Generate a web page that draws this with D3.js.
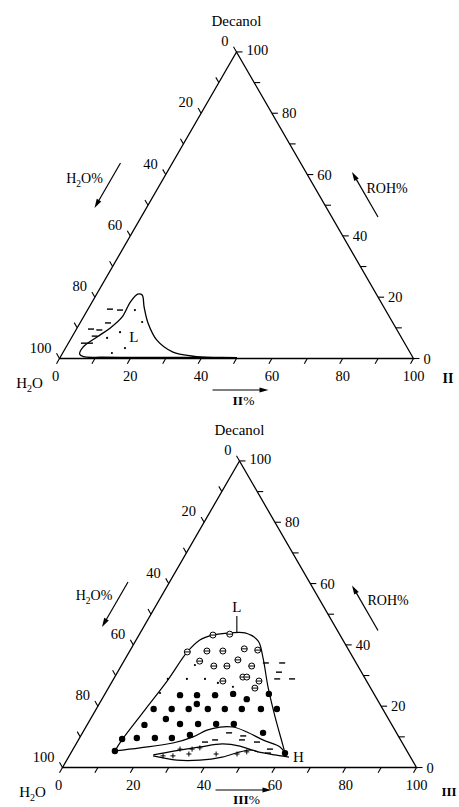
<!DOCTYPE html>
<html>
<head>
<meta charset="utf-8">
<script src="https://cdn.jsdelivr.net/npm/d3@7"></script>
<style>
body { margin: 0; background: #fff; }
svg text { font-family: "Liberation Serif", "Times New Roman", serif; fill: #000; }
</style>
</head>
<body>
<svg id="chart" width="459" height="807"></svg>
<script>
var tickValues = d3.range(0, 101, 10);
var labelValues = [0, 20, 40, 60, 80, 100];

// top diagram, points are [II %, ROH %]
var topRegionL = [[50, 0.3], [43.8, 0.35], [30, 0.35], [12, 0.4], [6.5, 0.6], [5.0, 1.4], [4.8, 3.7],
	[7.1, 7.0], [9.3, 9.9], [10.9, 13.5], [10.8, 18.4], [11.6, 21.0], [13.0, 20.7], [15.5, 16.8],
	[19.2, 11.6], [24.5, 6.0], [31, 2.1], [37.3, 0.8], [43.8, 0.35], [50, 0.3]];
var topDashes = [[6.2, 16.1], [9.2, 15.8], [7.9, 11.6], [4.1, 9.6], [6.6, 9.3], [6.3, 7.3], [4.4, 5.0], [6.1, 5.0]];
var topDots = [[13.4, 15.8], [17.4, 11.9], [12.8, 8.6], [10.1, 6.7], [16.8, 3.4], [13.9, 1.8]];
var topLabelL = [17.5, 7.0];

// bottom diagram, points are [III %, ROH %]
var botOuter = [[12.1, 5.4], [12.3, 9.0], [13.9, 18.8], [15.5, 28.5], [16.4, 37.7], [18.0, 41.6], [20.9, 43.2],
	[25.4, 43.9], [29.6, 43.9], [34.6, 41.3], [38.6, 36.0], [44.9, 26.3], [51.8, 16.5], [58.6, 7.3], [60.5, 4.7]];
var botInner = [[12.1, 5.4], [18.7, 6.4], [27.2, 8.0], [31.9, 10.0], [34.7, 12.2], [37.9, 13.2], [41.6, 13.2],
	[46.3, 11.6], [52.1, 9.0], [58.1, 6.7], [60.5, 4.7]];
var lensTop = [[23.6, 4.1], [29.1, 5.4], [35.5, 6.7], [41.3, 7.7], [46.6, 7.0], [50.6, 5.7], [52.7, 5.1]];
var lensBottom = [[23.7, 3.8], [31.1, 2.4], [37.6, 2.4], [43.4, 3.4], [47.6, 5.1], [50.6, 5.7], [52.7, 5.1],
	[58, 4.1], [62.3, 3.4]];
var botFilled = [[12.1, 5.4], [12.2, 9.3], [60.5, 4.7],
	[21.4, 23.6], [26.2, 23.6], [31.3, 23.6], [36.2, 24.0], [40.9, 22.3], [46.3, 24.0],
	[16.2, 19.1], [21.3, 19.1], [26.1, 19.1], [31.5, 19.1], [36.3, 19.1], [41.1, 19.1], [46.5, 19.1], [51.0, 19.1],
	[27.6, 20.7], [16.2, 13.9], [21.3, 15.8], [26.1, 14.2], [31.2, 14.2], [36.3, 14.2], [41.3, 14.2], [51.0, 11.3],
	[16.2, 9.6], [21.3, 9.6], [26.1, 9.6], [30.7, 10.6]];
var botTheta = [[16.4, 37.7], [20.9, 43.2], [25.5, 43.5], [36.0, 38.3], [21.8, 38.0], [26.3, 38.0], [32.0, 38.7],
	[21.4, 34.7], [26.2, 33.1], [29.9, 33.1], [32.0, 35.1], [36.9, 33.1], [31.2, 28.2], [36.2, 29.5],
	[37.3, 29.5], [41.4, 28.2], [41.4, 25.9]];
var botSmall = [[20.7, 33.4], [20.7, 28.9], [25.8, 28.9], [15.3, 28.9], [15.4, 24.3], [30.1, 27.6], [35.0, 26.3]];
var botDashes = [[40.4, 34.1], [45.0, 34.1], [45.6, 31.1], [46.2, 28.9], [50.4, 28.9],
	[41.4, 11.3], [45.9, 10.3], [46.2, 9.0], [36.1, 8.3], [38.6, 9.0], [50.8, 8.3], [55.6, 6.0], [55.7, 4.7]];
var botPlus = [[26.5, 3.8], [29.3, 3.8], [30.2, 6.0], [33.5, 4.4], [33.6, 6.0], [35.6, 6.4], [41.2, 4.4],
	[47.1, 4.4], [49.5, 5.1]];
var botLabelL = [27.3, 43.9];
var botLabelH = [62.3, 3.4];

var svg = d3.select('#chart');

function arrow(g, x1, y1, x2, y2){
	var dx = x2 - x1, dy = y2 - y1, len = Math.sqrt(dx*dx + dy*dy);
	var ux = dx/len, uy = dy/len, hl = 9, hw = 2.6;
	g.append('line')
		.attr('x1', x1).attr('y1', y1)
		.attr('x2', x2 - ux*hl*0.8).attr('y2', y2 - uy*hl*0.8)
		.attr('stroke', '#000').attr('stroke-width', 1.2);
	var bx = x2 - ux*hl, by = y2 - uy*hl;
	g.append('path')
		.attr('d', 'M' + x2 + ',' + y2 + 'L' + (bx - uy*hw) + ',' + (by + ux*hw)
			+ 'L' + (bx + uy*hw) + ',' + (by - ux*hw) + 'Z')
		.attr('fill', '#000');
}

function drawTernary(opts){
	var g = svg.append('g');
	var h = opts.side*Math.sqrt(3)/2;
	var x = d3.scaleLinear().domain([0, 100]).range([opts.left, opts.left + opts.side]);
	var y = d3.scaleLinear().domain([0, 100]).range([opts.base, opts.base - h]);
	// [bottom-axis %, ROH %] -> pixel
	var px = d => [x(d[0] + d[1]/2), y(d[1])];
	var bl = px([0, 0]), br = px([100, 0]), ap = px([0, 100]);

	g.append('path')
		.attr('d', 'M' + bl + 'L' + br + 'L' + ap + 'Z')
		.attr('fill', 'none').attr('stroke', '#000').attr('stroke-width', 1.3);

	var tl = 6;
	var s3 = Math.sqrt(3)/2;
	tickValues.forEach(function(v){
		var p = px([0, 100 - v]);
		g.append('line').attr('x1', p[0]).attr('y1', p[1])
			.attr('x2', p[0] - 0.5*tl).attr('y2', p[1] - s3*tl)
			.attr('stroke', '#000').attr('stroke-width', 1.1);
		p = px([100 - v, v]);
		g.append('line').attr('x1', p[0]).attr('y1', p[1])
			.attr('x2', p[0] + tl).attr('y2', p[1])
			.attr('stroke', '#000').attr('stroke-width', 1.1);
		p = px([v, 0]);
		g.append('line').attr('x1', p[0]).attr('y1', p[1])
			.attr('x2', p[0] - 0.5*tl).attr('y2', p[1] + s3*tl)
			.attr('stroke', '#000').attr('stroke-width', 1.1);
	});

	var fs = '14.5px';
	labelValues.forEach(function(v){
		var p = px([0, 100 - v]);
		g.append('text').attr('x', p[0] - 8).attr('y', p[1] - 11).attr('dy', '0.35em')
			.attr('text-anchor', 'end').style('font-size', fs).text(v);
		p = px([100 - v, v]);
		g.append('text').attr('x', p[0] + 10).attr('y', p[1] - (v == 100 ? 2 : 0)).attr('dy', '0.35em')
			.attr('text-anchor', 'start').style('font-size', fs).text(v);
		p = px([v, 0]);
		g.append('text').attr('x', p[0] - (v == 0 ? 4 : 0)).attr('y', p[1] + 17).attr('dy', '0.35em')
			.attr('text-anchor', 'middle').style('font-size', fs).text(v);
	});

	// vertex names
	g.append('text').attr('x', ap[0]).attr('y', ap[1] - 31).attr('dy', '0.35em')
		.attr('text-anchor', 'middle').style('font-size', '15px').text('Decanol');
	var h2o = g.append('text').attr('x', bl[0] - 30).attr('y', bl[1] + 24).attr('dy', '0.35em')
		.attr('text-anchor', 'middle').style('font-size', '15px');
	h2o.append('tspan').text('H');
	h2o.append('tspan').attr('dy', 4).style('font-size', '10px').text('2');
	h2o.append('tspan').attr('dy', -4).text('O');
	g.append('text').attr('x', br[0] + opts.nameDx).attr('y', br[1] + opts.nameDy).attr('dy', '0.35em')
		.attr('text-anchor', 'start').style('font-size', opts.nameSize).style('font-weight', 'bold').text(opts.name);

	// axis captions with arrows
	g.append('text').attr('x', bl[0] + 184).attr('y', bl[1] + opts.pctDy).attr('dy', '0.35em')
		.attr('text-anchor', 'middle').style('font-size', '13.5px')
		.html('<tspan font-weight="bold">' + opts.name + '</tspan>%');
	arrow(g, bl[0] + 153, bl[1] + opts.arrowDy, bl[0] + 209, bl[1] + opts.arrowDy);

	var wt = g.append('text').attr('x', ap[0] + opts.h2oText[0]).attr('y', ap[1] + opts.h2oText[1]).attr('dy', '0.35em')
		.attr('text-anchor', 'middle').style('font-size', '14px');
	wt.append('tspan').text('H');
	wt.append('tspan').attr('dy', 4).style('font-size', '9.5px').text('2');
	wt.append('tspan').attr('dy', -4).text('O%');
	var a0 = opts.h2oArrow;
	arrow(g, ap[0] + a0[0], ap[1] + a0[1], ap[0] + a0[0] - 26, ap[1] + a0[1] + 45);

	g.append('text').attr('x', ap[0] + opts.rohText[0]).attr('y', ap[1] + opts.rohText[1]).attr('dy', '0.35em')
		.attr('text-anchor', 'start').style('font-size', '14px').text('ROH%');
	var a1 = opts.rohArrow;
	arrow(g, ap[0] + a1[0], ap[1] + a1[1], ap[0] + a1[0] - 26, ap[1] + a1[1] - 45);

	var line = d3.line().x(d => px(d)[0]).y(d => px(d)[1]).curve(d3.curveCatmullRom.alpha(0.5));
	return {g: g, px: px, line: line};
}

function drawMarks(t, data, kind){
	var sel = t.g.append('g').selectAll('g').data(data).enter().append('g')
		.attr('transform', d => 'translate(' + t.px(d) + ')');
	if(kind == 'filled'){
		sel.append('circle').attr('r', 3.2).attr('fill', '#000');
	} else if(kind == 'theta'){
		sel.append('circle').attr('r', 3).attr('fill', '#fff').attr('stroke', '#000').attr('stroke-width', 1);
		sel.append('line').attr('x1', -3).attr('x2', 3).attr('stroke', '#000').attr('stroke-width', 1);
	} else if(kind == 'small'){
		sel.append('circle').attr('r', 1.1).attr('fill', '#000');
	} else if(kind == 'dash'){
		sel.append('line').attr('x1', -3).attr('x2', 3).attr('stroke', '#000').attr('stroke-width', 1.4);
	} else if(kind == 'plus'){
		sel.append('line').attr('x1', -2.5).attr('x2', 2.5).attr('stroke', '#000').attr('stroke-width', 1);
		sel.append('line').attr('y1', -2.5).attr('y2', 2.5).attr('stroke', '#000').attr('stroke-width', 1);
	}
}

// top: decanol / water / II
var t1 = drawTernary({left: 59.5, base: 358.5, side: 354, name: 'II', nameDx: 29, nameDy: 20, nameSize: '14px',
	pctDy: 41.5, arrowDy: 31.5, h2oText: [-152, 126], h2oArrow: [-116, 111],
	rohText: [130, 136], rohArrow: [141.5, 165]});
t1.g.append('path').attr('d', t1.line(topRegionL))
	.attr('fill', 'none').attr('stroke', '#000').attr('stroke-width', 1.3);
drawMarks(t1, topDashes, 'dash');
drawMarks(t1, topDots, 'small');
t1.g.append('text').attr('x', t1.px(topLabelL)[0]).attr('y', t1.px(topLabelL)[1]).attr('dy', '0.35em')
	.attr('text-anchor', 'middle').style('font-size', '15px').text('L');

// bottom: decanol / water / III
var t2 = drawTernary({left: 62.5, base: 767.5, side: 354, name: 'III', nameDx: 25, nameDy: 24, nameSize: '13px',
	pctDy: 31.5, arrowDy: 22.5, h2oText: [-145.5, 134], h2oArrow: [-111.5, 121],
	rohText: [128, 139], rohArrow: [138.5, 169.5]});
[botOuter, botInner, lensTop, lensBottom].forEach(function(c){
	t2.g.append('path').attr('d', t2.line(c))
		.attr('fill', 'none').attr('stroke', '#000').attr('stroke-width', 1.2);
});
drawMarks(t2, botSmall, 'small');
drawMarks(t2, botDashes, 'dash');
drawMarks(t2, botPlus, 'plus');
drawMarks(t2, botFilled, 'filled');
drawMarks(t2, botTheta, 'theta');
var pL = t2.px(botLabelL);
t2.g.append('line').attr('x1', pL[0]).attr('x2', pL[0]).attr('y1', pL[1] - 17).attr('y2', pL[1])
	.attr('stroke', '#000').attr('stroke-width', 1.1);
t2.g.append('text').attr('x', pL[0]).attr('y', pL[1] - 26).attr('dy', '0.35em')
	.attr('text-anchor', 'middle').style('font-size', '15px').text('L');
var pH = t2.px(botLabelH);
t2.g.append('text').attr('x', pH[0] + 4).attr('y', pH[1]).attr('dy', '0.35em')
	.attr('text-anchor', 'start').style('font-size', '15px').text('H');
</script>
</body>
</html>
